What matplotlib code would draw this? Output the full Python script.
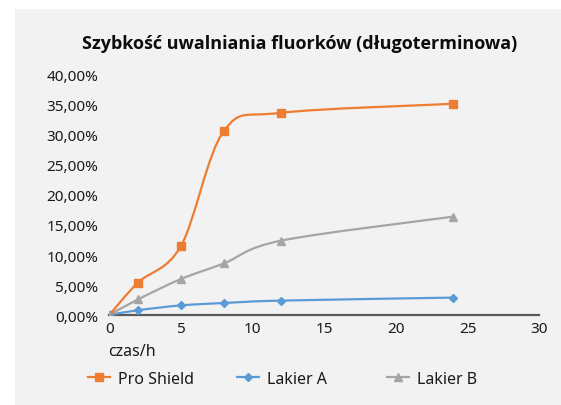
import numpy as np
import matplotlib
matplotlib.use("Agg")
import matplotlib.pyplot as plt
from matplotlib.path import Path
from matplotlib.patches import PathPatch, Rectangle
from matplotlib.lines import Line2D
from matplotlib.ticker import FuncFormatter

plt.rcParams['font.family'] = ['Noto Sans', 'DejaVu Sans']

# Release data: time in hours, cumulative fluoride release in %
czas = [0, 2, 5, 8, 12, 24]
pro_shield = [0.0, 5.4, 11.5, 30.7, 33.7, 35.2]
lakier_a = [0.0, 0.8, 1.6, 2.0, 2.4, 2.9]
lakier_b = [0.0, 2.6, 6.0, 8.6, 12.4, 16.4]

series = [
    ("Pro Shield", pro_shield, "#ED7D31", "s", 6),
    ("Lakier A", lakier_a, "#5B9BD5", "D", 4),
    ("Lakier B", lakier_b, "#A5A5A5", "^", 6),
]

title = "Szybkość uwalniania fluorków (długoterminowa)"
x_label = "czas/h"
x_ticks = [0, 5, 10, 15, 20, 25, 30]
y_ticks = [0, 5, 10, 15, 20, 25, 30, 35, 40]

W, H = 561, 406
fig = plt.figure(figsize=(W / 100, H / 100), dpi=100)
fig.patch.set_facecolor("white")
fig.patches.append(Rectangle((15 / W, 0), 1 - 15 / W, 1 - 10 / H,
                             transform=fig.transFigure, facecolor="#F2F2F2",
                             edgecolor="none", zorder=-10))

ax = fig.add_axes([109.3 / W, 1 - 316 / H, 430 / W, 240 / H])
ax.set_facecolor("none")
ax.set_zorder(2)


def smooth_path(xs, ys):
    """Cubic Bezier through the points (Catmull-Rom style tangents)."""
    pts = np.column_stack([xs, ys]).astype(float)
    n = len(pts)
    verts = [pts[0]]
    codes = [Path.MOVETO]
    for i in range(n - 1):
        p0 = pts[i - 1] if i > 0 else pts[i]
        p1 = pts[i]
        p2 = pts[i + 1]
        p3 = pts[i + 2] if i + 2 < n else pts[i + 1]
        c1 = p1 + (p2 - p0) / 6.0
        c2 = p2 - (p3 - p1) / 6.0
        verts += [c1, c2, p2]
        codes += [Path.CURVE4] * 3
    return Path(verts, codes)


for name, vals, color, marker, ms in series:
    ax.add_patch(PathPatch(smooth_path(czas, vals), facecolor="none",
                           edgecolor=color, lw=1.6, zorder=3))
    ax.plot(czas, vals, linestyle="none", marker=marker, ms=ms,
            color=color, zorder=4)

ax.set_xlim(0, 30)
ax.set_ylim(0, 40)
ax.set_xticks(x_ticks)
ax.set_yticks(y_ticks)
ax.yaxis.set_major_formatter(FuncFormatter(lambda v, p: f"{v:.2f}%".replace(".", ",")))
for s in ["top", "right", "left"]:
    ax.spines[s].set_visible(False)
ax.spines["bottom"].set_color("#595959")
ax.spines["bottom"].set_linewidth(1.6)
ax.spines["bottom"].set_zorder(2)
ax.tick_params(length=0, labelsize=11, colors="#1a1a1a")
ax.tick_params(axis="y", pad=8)
ax.tick_params(axis="x", pad=4)

fig.text(300 / W, 1 - 44 / H, title, ha="center", va="center",
         fontsize=13, fontweight="bold", family=["Open Sans", "DejaVu Sans"],
         color="#0d0d0d")
fig.text(108 / W, 1 - 352 / H, x_label, ha="left", va="center",
         fontsize=11.5, color="#1a1a1a")

# One legend entry per series, spaced evenly along the bottom
legend_x = [88, 237, 387]
for (name, vals, color, marker, ms), lx in zip(series, legend_x):
    h = Line2D([], [], color=color, marker=marker, ms=ms, lw=1.6)
    leg = fig.legend([h], [name], loc="center left",
                     bbox_to_anchor=(lx / W, 1 - 380 / H), frameon=False,
                     fontsize=11.5, handlelength=1.4, handletextpad=0.45,
                     borderaxespad=0, borderpad=0)
    for t in leg.get_texts():
        t.set_color("#1a1a1a")

fig.savefig("out.png", dpi=100, facecolor=fig.get_facecolor())
